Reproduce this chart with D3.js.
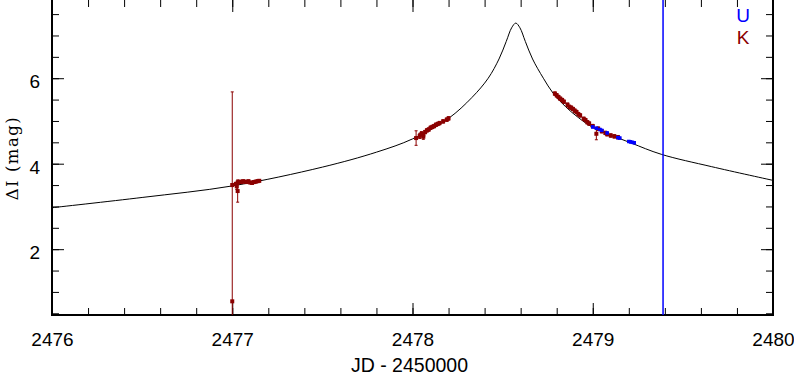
<!DOCTYPE html>
<html>
<head>
<meta charset="utf-8">
<script src="https://cdn.jsdelivr.net/npm/d3@7"></script>
<style>
  body { margin: 0; background: #fff; }
  svg { display: block; }
  .axis path { display: none; }
  .axis line { stroke: #000; stroke-width: 1; }
  .axis text { font-family: "Liberation Sans", Arial, sans-serif; font-size: 19px; fill: #000; }
</style>
</head>
<body>
<svg id="chart" width="794" height="376"></svg>
<script>
// model curve (JD - 2450000, delta I)
var modelJD  = [2476.00, 2476.50, 2477.00, 2477.50, 2477.80, 2478.00, 2478.20, 2478.33, 2478.42, 2478.48, 2478.52, 2478.55, 2478.573, 2478.596, 2478.626, 2478.666, 2478.726, 2478.78, 2478.85, 2478.92, 2479.00, 2479.21, 2479.38, 2479.66, 2480.00];
var modelMag = [2.97, 3.21, 3.48, 3.92, 4.27, 4.58, 5.06, 5.55, 6.00, 6.45, 6.86, 7.18, 7.29, 7.18, 6.86, 6.45, 6.00, 5.65, 5.33, 5.08, 4.85, 4.49, 4.22, 3.93, 3.61];

// K data
var kJD  = [2477.000, 2477.02, 2477.03, 2477.04, 2477.05, 2477.06, 2477.07, 2477.08, 2477.09, 2477.10, 2477.11, 2477.12, 2477.13, 2477.14, 2477.15, 2477.03, 2477.025, 2477.00,
            2478.02, 2478.04, 2478.05, 2478.06, 2478.07, 2478.08, 2478.09, 2478.10, 2478.11, 2478.12, 2478.13, 2478.14, 2478.15, 2478.17, 2478.19, 2478.20, 2478.06,
            2478.79, 2478.80, 2478.81, 2478.82, 2478.83, 2478.84, 2478.86, 2478.87, 2478.88, 2478.89, 2478.90, 2478.91, 2478.92, 2478.93, 2478.95, 2478.96, 2478.97, 2478.98, 2479.00, 2479.02, 2479.03, 2479.05, 2479.07, 2479.08, 2479.10, 2479.12, 2479.14];
var kMag = [3.50, 3.53, 3.56, 3.58, 3.57, 3.59, 3.58, 3.57, 3.59, 3.56, 3.55, 3.57, 3.58, 3.59, 3.60, 3.36, 3.47, 0.78,
            4.60, 4.65, 4.70, 4.68, 4.74, 4.78, 4.80, 4.84, 4.86, 4.88, 4.91, 4.93, 4.95, 4.99, 5.03, 5.06, 4.63,
            5.64, 5.60, 5.56, 5.52, 5.49, 5.45, 5.38, 5.33, 5.31, 5.28, 5.24, 5.21, 5.16, 5.13, 5.05, 5.02, 4.97, 4.94, 4.88, 4.70, 4.82, 4.76, 4.72, 4.69, 4.66, 4.64, 4.62];
var kErr = [0.03, 0.03, 0.04, 0.03, 0.03, 0.03, 0.03, 0.03, 0.03, 0.03, 0.03, 0.03, 0.03, 0.03, 0.03, 0.26, 0.07, 4.90,
            0.17, 0.06, 0.05, 0.04, 0.04, 0.04, 0.04, 0.04, 0.04, 0.04, 0.04, 0.04, 0.04, 0.04, 0.04, 0.04, 0.06,
            0.04, 0.04, 0.04, 0.04, 0.04, 0.04, 0.04, 0.04, 0.04, 0.04, 0.04, 0.04, 0.04, 0.04, 0.04, 0.04, 0.04, 0.04, 0.04, 0.14, 0.04, 0.04, 0.04, 0.04, 0.04, 0.04, 0.04];

// U data
var uJD  = [2479.00, 2479.02, 2479.04, 2479.05, 2479.08, 2479.14, 2479.15, 2479.20, 2479.21, 2479.22, 2479.23];
var uMag = [4.86, 4.83, 4.80, 4.78, 4.72, 4.61, 4.60, 4.52, 4.51, 4.50, 4.49];
var uErr = [0.02, 0.02, 0.02, 0.02, 0.02, 0.02, 0.02, 0.02, 0.02, 0.02, 0.02];

var markerJD = 2479.39;   // vertical blue line

var xTicks = [2476, 2477, 2478, 2479, 2480];
var yTicks = [2, 4, 6];
var legendNames = ["U", "K"];

var svg = d3.select("#chart");
var margin = {top: 0, right: 21, bottom: 61, left: 52};
var width = +svg.attr("width") - margin.left - margin.right;
var height = +svg.attr("height") - margin.top - margin.bottom;

var x = d3.scaleLinear().domain([2476, 2480]).range([0, width]);
var y = d3.scaleLinear().domain([0.46, 7.83]).range([height, 0]);

var colK = "#8b0000", colU = "#0000ff";

svg.append("defs").append("clipPath")
    .attr("id", "clip")
    .append("rect")
    .attr("width", width)
    .attr("height", height);

var g = svg.append("g")
    .attr("transform", "translate(" + margin.left + "," + margin.top + ")");

var xMinor = d3.range(2476, 2480.01, 0.2);
var yMinor = d3.range(0.5, 7.8, 0.5);

// ticks, all pointing inward
g.append("g").attr("class", "axis")
    .attr("transform", "translate(0," + height + ")")
    .call(d3.axisBottom(x).tickValues(xMinor).tickSize(-7).tickFormat(""));
g.append("g").attr("class", "axis")
    .attr("transform", "translate(0," + height + ")")
    .call(d3.axisBottom(x).tickValues(xTicks).tickSize(-12).tickPadding(18).tickFormat(d3.format("d")));
g.append("g").attr("class", "axis")
    .call(d3.axisTop(x).tickValues(xMinor).tickSize(-7).tickFormat(""));
g.append("g").attr("class", "axis")
    .call(d3.axisTop(x).tickValues(xTicks).tickSize(-12).tickFormat(""));
g.append("g").attr("class", "axis")
    .call(d3.axisLeft(y).tickValues(yMinor).tickSize(-7).tickFormat(""));
var yl = g.append("g").attr("class", "axis")
    .call(d3.axisLeft(y).tickValues(yTicks).tickSize(-12).tickPadding(12).tickFormat(d3.format("d")));
yl.selectAll("text").attr("dy", "0.51em");
g.append("g").attr("class", "axis")
    .attr("transform", "translate(" + width + ",0)")
    .call(d3.axisRight(y).tickValues(yMinor).tickSize(-7).tickFormat(""));
g.append("g").attr("class", "axis")
    .attr("transform", "translate(" + width + ",0)")
    .call(d3.axisRight(y).tickValues(yTicks).tickSize(-12).tickFormat(""));

// frame (top edge sits just off the page)
g.append("path")
    .attr("d", "M0,-2V" + height + "H" + width + "V-2")
    .style("fill", "none")
    .style("stroke", "#000")
    .style("stroke-width", 2);

// axis titles
svg.append("text")
    .attr("x", margin.left + width / 2 - 3)
    .attr("y", 372)
    .attr("text-anchor", "middle")
    .style("font-family", "Liberation Sans, Arial, sans-serif")
    .style("font-size", "19.5px")
    .text("JD - 2450000");

svg.append("text")
    .attr("transform", "translate(18," + 158 + ") rotate(-90)")
    .attr("text-anchor", "middle")
    .style("font-family", "DejaVu Serif, serif")
    .style("font-size", "16.5px")
    .style("letter-spacing", "1.5px")
    .text("\u0394I (mag)");

var plot = g.append("g").attr("clip-path", "url(#clip)");

// model curve
var model = modelJD.map(function(d, i) { return {jd: d, mag: modelMag[i]}; });
var line = d3.line()
    .curve(d3.curveCatmullRom.alpha(0.5))
    .x(function(d) { return x(d.jd); })
    .y(function(d) { return y(d.mag); });
plot.append("path")
    .datum(model)
    .style("fill", "none")
    .style("stroke", "#000")
    .style("stroke-width", 1)
    .attr("d", line);

function draw_points(jd, mag, err, color, size) {
    var pts = jd.map(function(d, i) { return {jd: d, mag: mag[i], err: err[i]}; });
    var grp = plot.append("g");
    grp.selectAll(".bar")
        .data(pts).enter().append("path")
        .style("fill", "none")
        .style("stroke", color)
        .style("stroke-width", 1)
        .attr("d", function(d) {
            var cx = x(d.jd), y0 = y(d.mag - d.err), y1 = y(d.mag + d.err);
            return "M" + cx + "," + y0 + "V" + y1 +
                   "M" + (cx - 1.5) + "," + y0 + "H" + (cx + 1.5) +
                   "M" + (cx - 1.5) + "," + y1 + "H" + (cx + 1.5);
        });
    grp.selectAll(".pt")
        .data(pts).enter().append("rect")
        .style("fill", color)
        .attr("x", function(d) { return x(d.jd) - size / 2; })
        .attr("y", function(d) { return y(d.mag) - size / 2; })
        .attr("width", size)
        .attr("height", size);
}

draw_points(kJD, kMag, kErr, colK, 4);
draw_points(uJD, uMag, uErr, colU, 3.5);

// vertical blue line
plot.append("line")
    .attr("x1", x(markerJD)).attr("x2", x(markerJD))
    .attr("y1", 0).attr("y2", height)
    .style("stroke", colU)
    .style("stroke-width", 1.5);

// legend
g.selectAll(".legend")
    .data(legendNames).enter().append("text")
    .attr("x", width - 30)
    .attr("y", function(d, i) { return 22 + i * 22; })
    .attr("text-anchor", "middle")
    .style("font-family", "Liberation Sans, Arial, sans-serif")
    .style("font-size", "19px")
    .style("fill", function(d, i) { return i === 0 ? colU : colK; })
    .text(function(d) { return d; });
</script>
</body>
</html>
